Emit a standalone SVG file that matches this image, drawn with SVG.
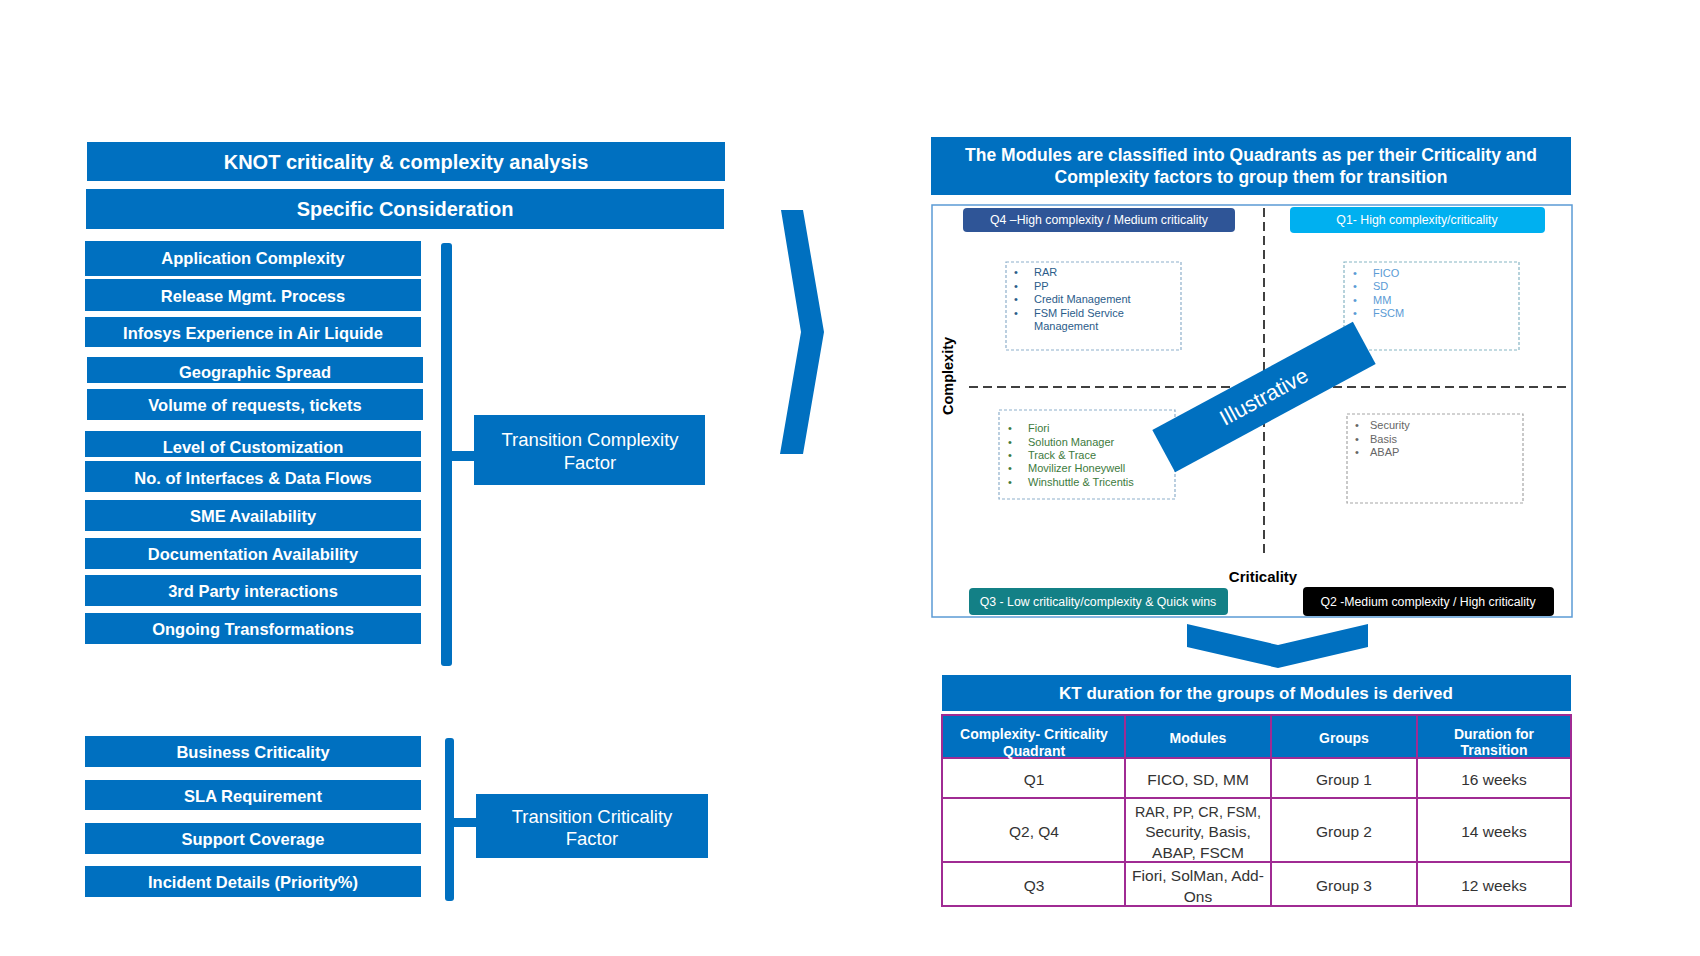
<svg xmlns="http://www.w3.org/2000/svg" width="1700" height="956" viewBox="0 0 1700 956">
<style>
.blue{fill:#0070C0}
.item{font-family:"Liberation Sans",Arial,sans-serif;font-weight:bold;font-size:16.5px;fill:#fff;text-anchor:middle;dominant-baseline:central}
.hdr{font-family:"Liberation Sans",Arial,sans-serif;font-weight:bold;font-size:20px;fill:#fff;text-anchor:middle;dominant-baseline:central}
.fac{font-family:"Liberation Sans",Arial,sans-serif;font-size:18.5px;fill:#fff;text-anchor:middle;dominant-baseline:central}
.ql{font-family:"Liberation Sans",Arial,sans-serif;font-size:12.3px;fill:#fff;text-anchor:middle;dominant-baseline:central}
.li{font-family:"Liberation Sans",Arial,sans-serif;font-size:11px;dominant-baseline:central}
.lbox{fill:none;stroke:#8EAFCB;stroke-width:1.2;stroke-dasharray:3 2}
.axis{stroke:#404040;stroke-width:2;stroke-dasharray:9 5;fill:none}
.axl{font-family:"Liberation Sans",Arial,sans-serif;font-weight:bold;font-size:14.5px;fill:#000;text-anchor:middle;dominant-baseline:central}
.th{font-family:"Liberation Sans",Arial,sans-serif;font-weight:bold;font-size:14px;fill:#fff;text-anchor:middle;dominant-baseline:central}
.td{font-family:"Liberation Sans",Arial,sans-serif;font-size:15.5px;fill:#333;text-anchor:middle;dominant-baseline:central}
.grid{stroke:#A02B93;stroke-width:2;fill:none}
</style>
<rect width="1700" height="956" fill="#fff"/>

<g id="header-knot"><rect class="blue" x="87" y="142" width="638" height="39"/><text class="hdr" x="406" y="161.5">KNOT criticality &amp; complexity analysis</text></g>
<g id="header-specific"><rect class="blue" x="86" y="189" width="638" height="40"/><text class="hdr" x="405" y="209">Specific Consideration</text></g>

<g id="item-app-complexity"><rect class="blue" x="85" y="241" width="336" height="35"/><text class="item" x="253" y="258">Application Complexity</text></g>
<g id="item-release"><rect class="blue" x="85" y="279" width="336" height="32"/><text class="item" x="253" y="296">Release Mgmt. Process</text></g>
<g id="item-infosys"><rect class="blue" x="85" y="317" width="336" height="30"/><text class="item" x="253" y="333">Infosys Experience in Air Liquide</text></g>
<g id="item-geo"><rect class="blue" x="87" y="357" width="336" height="26"/><text class="item" x="255" y="372">Geographic Spread</text></g>
<g id="item-volume"><rect class="blue" x="87" y="389" width="336" height="31"/><text class="item" x="255" y="405">Volume of requests, tickets</text></g>
<g id="item-custom"><rect class="blue" x="85" y="431" width="336" height="26"/><text class="item" x="253" y="447">Level of Customization</text></g>
<g id="item-interfaces"><rect class="blue" x="85" y="461" width="336" height="31"/><text class="item" x="253" y="478">No. of Interfaces &amp; Data Flows</text></g>
<g id="item-sme"><rect class="blue" x="85" y="500" width="336" height="31"/><text class="item" x="253" y="516">SME Availability</text></g>
<g id="item-doc"><rect class="blue" x="85" y="538" width="336" height="31"/><text class="item" x="253" y="554">Documentation Availability</text></g>
<g id="item-3rd"><rect class="blue" x="85" y="575" width="336" height="31"/><text class="item" x="253" y="591">3rd Party interactions</text></g>
<g id="item-ongoing"><rect class="blue" x="85" y="613" width="336" height="31"/><text class="item" x="253" y="629">Ongoing Transformations</text></g>

<g id="factor-complexity"><rect class="blue" x="474" y="415" width="231" height="70"/><text class="fac" x="590" y="439">Transition Complexity</text><text class="fac" x="590" y="462">Factor</text></g>

<g id="item-business"><rect class="blue" x="85" y="736" width="336" height="31"/><text class="item" x="253" y="752">Business Criticality</text></g>
<g id="item-sla"><rect class="blue" x="85" y="780" width="336" height="30"/><text class="item" x="253" y="796">SLA Requirement</text></g>
<g id="item-support"><rect class="blue" x="85" y="823" width="336" height="31"/><text class="item" x="253" y="839">Support Coverage</text></g>
<g id="item-incident"><rect class="blue" x="85" y="866" width="336" height="31"/><text class="item" x="253" y="882">Incident Details (Priority%)</text></g>

<g id="factor-criticality"><rect class="blue" x="476" y="794" width="232" height="64"/><text class="fac" x="592" y="816">Transition Criticality</text><text class="fac" x="592" y="838">Factor</text></g>

<g id="connectors">
<rect class="blue" x="441" y="243" width="11" height="423" rx="3"/>
<rect class="blue" x="450" y="451" width="25" height="10"/>
<rect class="blue" x="445" y="738" width="9" height="163" rx="3"/>
<rect class="blue" x="452" y="818" width="25" height="9"/>
<polygon class="blue" points="781,210 803,210 824,332 803,454 780,454 801,332"/>
<polygon class="blue" points="1187,624 1278,645 1368,624 1368,647 1278,668 1187,647"/>
</g>

<g id="title-quadrants"><rect class="blue" x="931" y="137" width="640" height="58"/>
<text class="hdr" style="font-size:17.5px" x="1251" y="155">The Modules are classified into Quadrants as per their Criticality and</text>
<text class="hdr" style="font-size:17.5px" x="1251" y="177">Complexity factors to group them for transition</text></g>

<g id="quadrant-chart">
<rect x="932" y="205" width="640" height="412" fill="#fff" stroke="#5B9BD5" stroke-width="1.5"/>
<line class="axis" x1="1264" y1="208" x2="1264" y2="558"/>
<line class="axis" x1="969" y1="387" x2="1571" y2="387"/>
<text class="axl" transform="translate(948 376) rotate(-90)">Complexity</text>
<text class="axl" style="font-size:15px" x="1263" y="576">Criticality</text>
</g>

<g id="q4-label"><rect x="963" y="208" width="272" height="24" rx="4" fill="#2F5597"/><text class="ql" x="1099" y="220">Q4 –High complexity / Medium criticality</text></g>
<g id="q1-label"><rect x="1290" y="207" width="255" height="26" rx="4" fill="#00B0F0"/><text class="ql" x="1417" y="220">Q1- High complexity/criticality</text></g>
<g id="q3-label"><rect x="969" y="588" width="259" height="27" rx="4" fill="#138086"/><text class="ql" x="1098" y="601.5">Q3 - Low criticality/complexity  &amp; Quick wins</text></g>
<g id="q2-label"><rect x="1303" y="587" width="251" height="29" rx="4" fill="#000"/><text class="ql" x="1428" y="601.5">Q2 -Medium complexity / High criticality</text></g>

<g id="q4-list" fill="#2B5C8A"><rect class="lbox" x="1006" y="262" width="175" height="88"/>
<text class="li" x="1014" y="272">•</text><text class="li" x="1034" y="272">RAR</text>
<text class="li" x="1014" y="286">•</text><text class="li" x="1034" y="286">PP</text>
<text class="li" x="1014" y="299">•</text><text class="li" x="1034" y="299">Credit Management</text>
<text class="li" x="1014" y="313">•</text><text class="li" x="1034" y="313">FSM Field Service</text>
<text class="li" x="1034" y="326">Management</text></g>

<g id="q1-list" fill="#5B9BD5"><rect class="lbox" x="1344" y="262" width="175" height="88" style="stroke:#86B5C4"/>
<text class="li" x="1353" y="273">•</text><text class="li" x="1373" y="273">FICO</text>
<text class="li" x="1353" y="286">•</text><text class="li" x="1373" y="286">SD</text>
<text class="li" x="1353" y="300">•</text><text class="li" x="1373" y="300">MM</text>
<text class="li" x="1353" y="313">•</text><text class="li" x="1373" y="313">FSCM</text></g>

<g id="q3-list" fill="#3D7A3D"><rect class="lbox" x="999" y="410" width="176" height="89"/>
<text class="li" x="1008" y="428">•</text><text class="li" x="1028" y="428">Fiori</text>
<text class="li" x="1008" y="442">•</text><text class="li" x="1028" y="442">Solution Manager</text>
<text class="li" x="1008" y="455">•</text><text class="li" x="1028" y="455">Track &amp; Trace</text>
<text class="li" x="1008" y="468">•</text><text class="li" x="1028" y="468">Movilizer Honeywell</text>
<text class="li" x="1008" y="482">•</text><text class="li" x="1028" y="482">Winshuttle &amp; Tricentis</text></g>

<g id="q2-list" fill="#666"><rect class="lbox" x="1347" y="414" width="176" height="89" style="stroke:#A6A6A6"/>
<text class="li" x="1355" y="425">•</text><text class="li" x="1370" y="425">Security</text>
<text class="li" x="1355" y="439">•</text><text class="li" x="1370" y="439">Basis</text>
<text class="li" x="1355" y="452">•</text><text class="li" x="1370" y="452">ABAP</text></g>

<g id="illustrative-banner" transform="translate(1264 397) rotate(-28.4)"><rect class="blue" x="-114" y="-24" width="228" height="48"/><text class="fac" style="font-size:21.5px" x="0" y="0">Illustrative</text></g>

<g id="kt-header"><rect class="blue" x="942" y="675" width="629" height="36"/><text class="hdr" style="font-size:17px" x="1256" y="693">KT duration for the groups of Modules is derived</text></g>

<g id="kt-table">
<rect class="blue" x="942" y="715" width="629" height="43"/>
<rect class="grid" x="942" y="715" width="629" height="191"/>
<line class="grid" x1="942" y1="758" x2="1571" y2="758"/>
<line class="grid" x1="942" y1="798" x2="1571" y2="798"/>
<line class="grid" x1="942" y1="862" x2="1571" y2="862"/>
<line class="grid" x1="1125" y1="715" x2="1125" y2="906"/>
<line class="grid" x1="1271" y1="715" x2="1271" y2="906"/>
<line class="grid" x1="1417" y1="715" x2="1417" y2="906"/>
<text class="th" x="1034" y="734">Complexity- Criticality</text>
<text class="th" x="1034" y="751">Quadrant</text>
<text class="th" x="1198" y="738">Modules</text>
<text class="th" x="1344" y="738">Groups</text>
<text class="th" x="1494" y="734">Duration for</text>
<text class="th" x="1494" y="750">Transition</text>
<text class="td" x="1034" y="779">Q1</text>
<text class="td" x="1198" y="779">FICO, SD, MM</text>
<text class="td" x="1344" y="779">Group 1</text>
<text class="td" x="1494" y="779">16 weeks</text>
<text class="td" x="1034" y="831">Q2, Q4</text>
<text class="td" x="1198" y="811" textLength="126" lengthAdjust="spacingAndGlyphs">RAR, PP, CR, FSM,</text>
<text class="td" x="1198" y="831">Security, Basis,</text>
<text class="td" x="1198" y="852">ABAP, FSCM</text>
<text class="td" x="1344" y="831">Group 2</text>
<text class="td" x="1494" y="831">14 weeks</text>
<text class="td" x="1034" y="885">Q3</text>
<text class="td" x="1198" y="875">Fiori, SolMan, Add-</text>
<text class="td" x="1198" y="896">Ons</text>
<text class="td" x="1344" y="885">Group 3</text>
<text class="td" x="1494" y="885">12 weeks</text>
</g>
</svg>
